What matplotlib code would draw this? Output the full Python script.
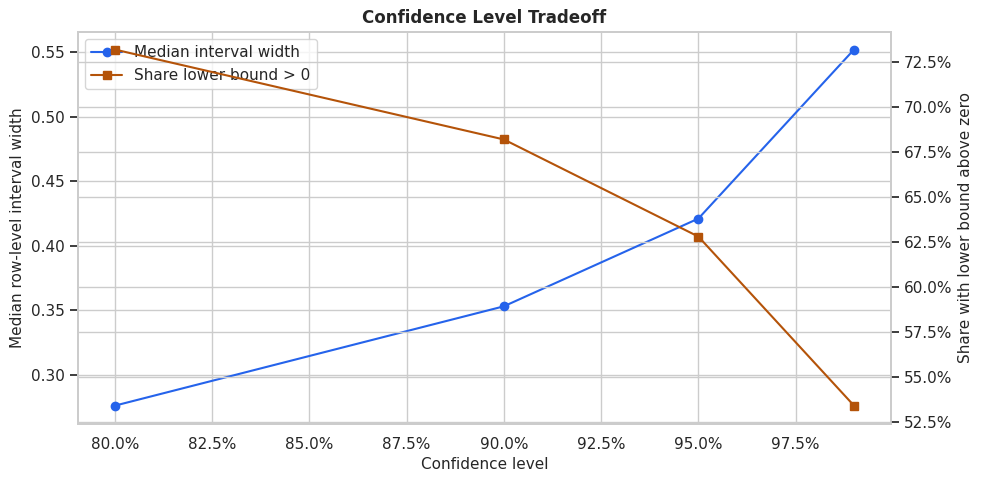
import numpy as np
import matplotlib
matplotlib.use("Agg")
import matplotlib.pyplot as plt
from matplotlib.ticker import PercentFormatter
import seaborn as sns

# values
levels = [0.80, 0.90, 0.95, 0.99]
median_width = [0.276, 0.353, 0.421, 0.552]
share_positive = [0.732, 0.682, 0.628, 0.534]

sns.set_theme(style="whitegrid")
plt.rcParams["axes.labelsize"] = 11

fig, ax = plt.subplots(figsize=(9.84, 4.84), dpi=100)
ax2 = ax.twinx()

l1 = ax.plot(levels, median_width, marker="o", color="#2563eb", label="Median interval width")
l2 = ax2.plot(levels, share_positive, marker="s", color="#b45309", label="Share lower bound > 0")

ax.set_xlabel("Confidence level")
ax.set_ylabel("Median row-level interval width")
ax2.set_ylabel("Share with lower bound above zero")
ax.xaxis.set_major_formatter(PercentFormatter(1.0))
ax2.yaxis.set_major_formatter(PercentFormatter(1.0))
ax.set_title("Confidence Level Tradeoff", fontweight="bold")

lines = l1 + l2
ax.legend(lines, [l.get_label() for l in lines], loc="upper left")

fig.subplots_adjust(left=0.079, right=0.9055, top=0.9345, bottom=0.125)
fig.savefig("out.png")
